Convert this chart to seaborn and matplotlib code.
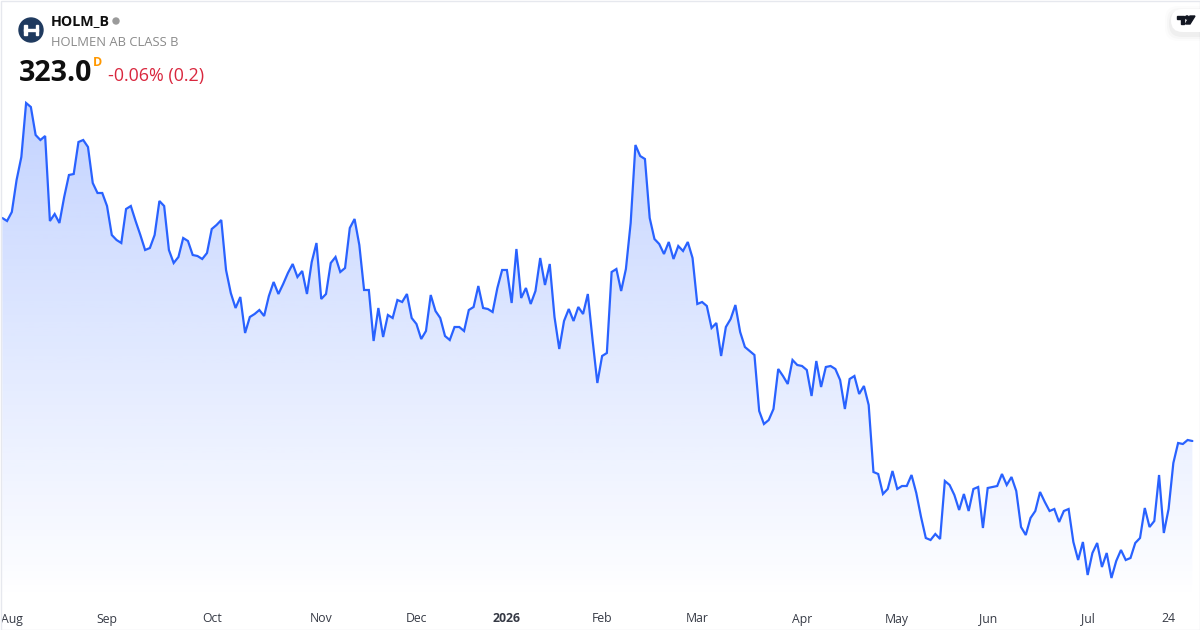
import numpy as np
import matplotlib
matplotlib.use('Agg')
import matplotlib.pyplot as plt
from matplotlib.patches import Circle, FancyBboxPatch, Polygon, Rectangle
import seaborn as sns


# daily closes, oldest first
closes = [
    367.6, 367.0, 368.8, 375.2, 379.8, 390.6, 389.8, 384.2, 383.2, 384.0,
    367.0, 368.4, 366.6, 371.8, 376.2, 376.4, 382.8, 383.2, 381.8, 374.6,
    372.6, 372.6, 370.0, 364.2, 363.2, 362.6, 369.4, 370.0, 367.0, 364.2,
    361.2, 361.6, 364.2, 371.0, 370.0, 361.2, 358.6, 359.8, 363.6, 363.0,
    360.2, 360.0, 359.4, 360.6, 365.4, 366.2, 367.2, 357.2, 352.6, 349.6,
    351.8, 344.6, 347.8, 348.4, 349.2, 348.0, 352.0, 354.8, 352.4, 354.4,
    356.6, 358.4, 355.8, 357.0, 352.4, 358.8, 362.6, 351.4, 352.4, 358.6,
    359.8, 356.8, 357.6, 365.6, 367.4, 362.2, 353.2, 353.2, 343.0, 349.6,
    343.8, 348.2, 347.6, 351.2, 350.8, 352.4, 347.6, 346.4, 343.4, 345.0,
    352.2, 349.0, 347.6, 344.0, 343.2, 345.8, 345.8, 345.0, 349.2, 349.8,
    354.0, 349.6, 349.4, 348.8, 353.6, 357.2, 357.2, 350.6, 361.4, 351.6,
    353.6, 350.4, 353.0, 359.6, 354.2, 358.4, 347.8, 341.4, 347.0, 349.4,
    347.0, 349.8, 348.4, 352.4, 343.2, 334.6, 340.0, 340.6, 356.8, 357.4,
    353.0, 357.4, 366.6, 382.2, 380.0, 379.4, 367.6, 363.4, 362.4, 360.4,
    362.8, 359.4, 362.0, 361.0, 362.8, 359.6, 350.4, 350.8, 350.0, 345.6,
    346.6, 340.0, 345.8, 347.4, 350.2, 344.8, 341.8, 341.0, 340.2, 329.0,
    326.4, 327.2, 329.4, 337.4, 336.0, 334.4, 339.2, 338.2, 338.0, 337.2,
    332.0, 339.0, 333.8, 337.8, 338.0, 337.4, 335.2, 329.4, 335.4, 336.0,
    332.4, 334.0, 330.2, 316.8, 316.4, 312.4, 313.4, 317.0, 313.4, 314.0,
    314.0, 316.2, 312.6, 307.8, 303.6, 303.2, 304.4, 303.4, 315.0, 314.2,
    312.2, 309.2, 312.4, 309.0, 313.4, 313.8, 305.6, 313.6, 313.8, 314.0,
    316.4, 314.2, 315.8, 313.0, 305.8, 304.2, 307.6, 309.0, 312.8, 310.8,
    309.0, 309.4, 306.8, 309.0, 309.4, 302.8, 299.2, 302.8, 296.2, 300.6,
    302.6, 297.8, 300.6, 295.6, 299.0, 301.2, 299.2, 299.6, 302.6, 303.6,
    309.6, 305.8, 307.0, 316.2, 304.6, 309.4, 318.6, 322.6, 322.4, 323.2,
    323.0,
]
tick_days = [2, 22, 44, 67, 87, 106, 126, 146, 168, 188, 207, 228, 245]
tick_labels = ['Aug', 'Sep', 'Oct', 'Nov', 'Dec', '2026', 'Feb', 'Mar', 'Apr',
               'May', 'Jun', 'Jul', '24']

LINE_COLOR = '#2962ff'

sns.set_theme(style='white')
plt.rcParams['font.family'] = ['Open Sans', 'DejaVu Sans']

fig = plt.figure(figsize=(12, 6.3), dpi=100, facecolor='white')

# price pane: 600px tall, 4.76px per trading day
ax = fig.add_axes([0, 30 / 630, 1, 600 / 630])
days = np.arange(len(closes))
sns.lineplot(x=days, y=closes, color=LINE_COLOR, linewidth=1.6, ax=ax,
             solid_joinstyle='miter', zorder=3)
ax.set_xlim(-0.483, 251.6)
ax.set_ylim(291.2, 411.2)

# area under the line, fading out towards the bottom of the pane
area = ax.fill_between(days, closes, 291.2, color='none', linewidth=0)
gradient = np.zeros((256, 1, 4))
gradient[..., 0] = 41 / 255
gradient[..., 1] = 98 / 255
gradient[..., 2] = 1
gradient[:, 0, 3] = np.linspace(0.28, 0.0, 256)
image = ax.imshow(gradient, aspect='auto', zorder=1,
                  extent=(0, len(closes) - 1, 291.2, max(closes)))
image.set_clip_path(area.get_paths()[0], transform=ax.transData)
ax.set_xlim(-0.483, 251.6)
ax.set_ylim(291.2, 411.2)

ax.set_yticks([])
ax.set_xticks(tick_days)
ax.set_xticklabels(tick_labels, fontsize=8.8, color='#363a45')
ax.tick_params(axis='x', length=0, pad=9)
ax.get_xticklabels()[5].set_fontweight('bold')
ax.set_xlabel('')
ax.set_ylabel('')
sns.despine(ax=ax, left=True, bottom=True)

# overlay in pixel coordinates for the header, border and badge
over = fig.add_axes([0, 0, 1, 1], facecolor='none')
over.set_xlim(0, 1200)
over.set_ylim(630, 0)
over.axis('off')

over.add_patch(Rectangle((0.5, 0.5), 1199, 629, fill=False, edgecolor='#e6e8ee', linewidth=1))

# symbol logo
over.add_patch(Circle((31, 30), 12, color='#1f3a5f'))
over.add_patch(Rectangle((24, 25), 2.5, 10, color='white'))
over.add_patch(Rectangle((35.5, 25), 2.5, 10, color='white'))
over.add_patch(Rectangle((24, 29), 14, 2, color='white'))

over.text(51, 21.5, 'HOLM_B', fontsize=10.3, fontweight='bold', color='#0f0f0f', va='center')
over.add_patch(Circle((116, 21), 3, color='#9a9a9a'))
over.text(51, 42, 'HOLMEN AB CLASS B', fontsize=9.35, color='#8a8a8a', va='center')
over.text(19, 73.5, '323.0', fontsize=20.5, fontweight='bold', color='#0f0f0f', va='center')
over.text(93, 62, 'D', fontsize=9, fontweight='bold', color='#ff9800', va='center')
over.text(108, 76, '-0.06% (0.2)', fontsize=12.9, color='#d9273e', va='center')

# chart provider badge, top right
for offset, alpha in ((6, 0.012), (4, 0.02), (2, 0.03)):
    over.add_patch(FancyBboxPatch((1171 - offset, 9 - offset + 3), 45 + offset, 23 + 2 * offset,
                                  boxstyle='round,pad=0,rounding_size=13', linewidth=0,
                                  facecolor='black', alpha=alpha))
over.add_patch(FancyBboxPatch((1171, 9), 45, 23, boxstyle='round,pad=0,rounding_size=11.5',
                              linewidth=0, facecolor='white'))
over.add_patch(Polygon([(1177, 16), (1184, 16), (1184, 24), (1181, 24), (1181, 19), (1177, 19)],
                       color='#131722'))
over.add_patch(Circle((1187, 17.5), 1.6, color='#131722'))
over.add_patch(Polygon([(1190, 16), (1195, 16), (1190, 24), (1185.5, 24)], color='#131722'))
over.set_xlim(0, 1200)
over.set_ylim(630, 0)

fig.savefig('out.png', dpi=100)
